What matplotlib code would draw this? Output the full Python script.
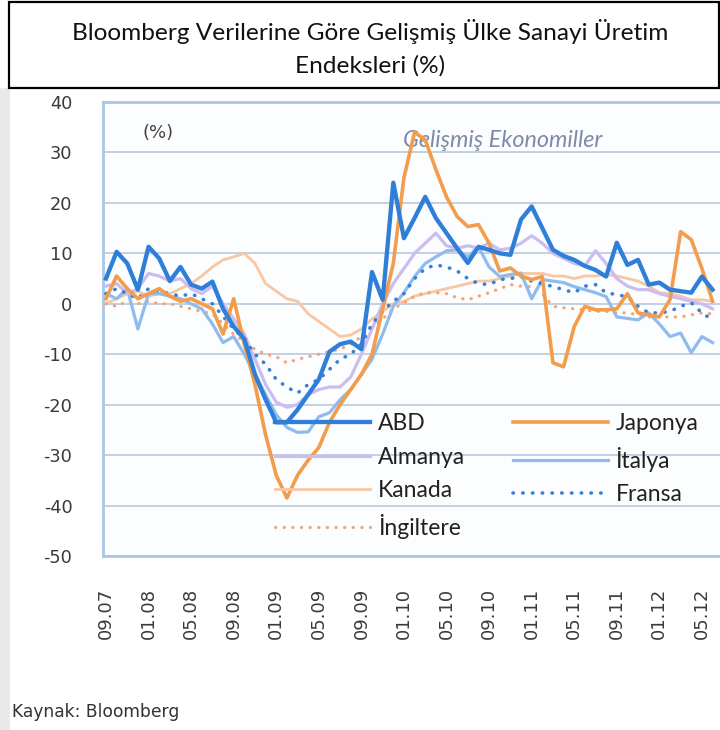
import matplotlib
matplotlib.use("Agg")
import matplotlib.pyplot as plt
from matplotlib.patches import Rectangle

# ---------------- data ----------------
months = ["09.07","10.07","11.07","12.07","01.08","02.08","03.08","04.08","05.08","06.08","07.08","08.08",
          "09.08","10.08","11.08","12.08","01.09","02.09","03.09","04.09","05.09","06.09","07.09","08.09",
          "09.09","10.09","11.09","12.09","01.10","02.10","03.10","04.10","05.10","06.10","07.10","08.10",
          "09.10","10.10","11.10","12.10","01.11","02.11","03.11","04.11","05.11","06.11","07.11","08.11",
          "09.11","10.11","11.11","12.11","01.12","02.12","03.12","04.12","05.12","06.12"]
tick_labels = ["09.07","01.08","05.08","09.08","01.09","05.09","09.09","01.10",
               "05.10","09.10","01.11","05.11","09.11","01.12","05.12"]

abd = [5, 10.3, 8, 2.8, 11.3, 9, 4.5, 7.3, 3.8, 3, 4.4, -1, -4.5, -7, -14, -19, -23.5, -23.5, -21, -18,
       -15, -9.5, -8, -7.5, -9, 6.3, 0.8, 24, 13, 17, 21.2, 17, 14, 11, 8.1, 11.3, 10.7, 10, 9.7, 16.7,
       19.3, 15, 10.7, 9.5, 8.7, 7.5, 6.7, 5.4, 12.1, 7.7, 8.7, 3.8, 4.2, 2.8, 2.5, 2.2, 5.4, 2.8]
japonya = [1, 5.5, 3, 1, 2, 3, 1.5, 0.5, 1, 0, -1, -6, 1, -8, -16, -26, -34, -38.5, -34, -31,
           -28.5, -23.5, -20, -17, -14, -10, -1, 8, 25, 34, 32.5, 26.6, 21.2, 17.3, 15.3, 15.7, 12, 6.5, 7.1, 5.5,
           4.8, 5.4, -11.7, -12.5, -4.5, -0.5, -1.2, -1.2, -1, 2, -1.8, -2.2, -2.6, 0.8, 14.3, 12.7, 7, 0.5]
almanya = [3.5, 4, 2, 3, 6, 5.5, 4.5, 5, 3, 2, 3.5, 0, -3, -6, -11, -16, -19.5, -20.5, -20, -18,
           -17, -16.5, -16.5, -14.5, -10, -5, 0, 4, 7, 10, 12, 14, 11.5, 11, 11.5, 11, 12, 10.7, 11, 12,
           13.5, 12, 10, 9, 8, 7.5, 10.5, 8, 5, 3.5, 2.8, 2.8, 2, 1.5, 1, 0.5, 0, -1]
italya = [2, 1, 3, -5, 2, 2, 1.5, 1, 0, -1, -4, -7.7, -6.5, -10, -14, -18, -22, -24.5, -25.5, -25.4,
          -22.4, -21.6, -19, -17, -14, -11, -6, -0.5, 2.2, 5.4, 8, 9.3, 10.5, 10.7, 9.3, 11.3, 7.3, 5.4, 5.8, 6.1,
          1.0, 4.8, 4.5, 4.2, 3.4, 2.8, 2.2, 1.4, -2.6, -2.9, -3.2, -1.8, -4, -6.5, -5.8, -9.7, -6.5, -7.7]
kanada = [0, 1, 2, 2.5, 1.5, 2, 2, 3, 4, 5.5, 7.3, 8.7, 9.3, 10, 8, 4, 2.5, 1, 0.5, -2,
          -3.5, -5, -6.5, -6.2, -5, -3, -1.5, 0, 0.5, 1.5, 2, 2.5, 3, 3.5, 4, 4.5, 4.5, 5, 5.5, 6,
          6, 6, 5.5, 5.5, 5, 5.5, 5.5, 5.8, 5.5, 5, 4.5, 3.5, 2.2, 2, 1.5, 0.8, 0.8, 0.5]
fransa = [2, 3, 2, 1, 3, 2.5, 2, 1.5, 2, 1, 0, -2.5, -5, -7, -10, -12, -15, -16.5, -17.7, -16,
          -15, -13, -11, -10, -8, -4, -1.5, 0.5, 2, 5, 7, 7.7, 7.3, 6.5, 5, 4, 3.8, 4.8, 5, 5.4,
          4.5, 4, 3.4, 2.8, 2.2, 3.5, 3.8, 2.2, 1.8, 1.4, -0.5, -1.8, -1.8, -1.5, -0.5, 0.2, -1.8, -3.2]
ingiltere = [0, -0.5, 0.5, 0, 0.5, 0, 0, -0.5, -1, -1.5, -2, -4, -6, -7.5, -9, -10, -10.5, -11.7, -11, -10.5,
             -10, -9.5, -9, -8, -6.5, -4.5, -3, -1, 0.2, 1.5, 2.2, 2.2, 2, 1.2, 0.8, 1.5, 2.2, 3, 3.8, 3.5,
             3.4, 2, -0.5, -0.8, -1, -1.2, -1.5, -1.5, -1.8, -1.8, -2.2, -2.6, -2.6, -2.6, -2.6, -2.2, -1.8, -2]

series_names = ["ABD", "Japonya", "Almanya", "İtalya", "Kanada", "Fransa", "İngiltere"]

# ---------------- figure ----------------
W, H = 720, 730
fig = plt.figure(figsize=(W / 100, H / 100), dpi=100)
fig.patch.set_facecolor("white")

def fx(px):
    return px / W

def fy(py):
    return 1 - py / H

# grey page strip on the left
fig.patches.append(Rectangle((0, 0), fx(10), fy(88), transform=fig.transFigure,
                             facecolor="#e9e9e9", edgecolor="none", zorder=0))
# title box
fig.patches.append(Rectangle((fx(9), fy(88)), fx(719) - fx(9), fy(2) - fy(88),
                             transform=fig.transFigure, facecolor="white",
                             edgecolor="black", linewidth=1.6, zorder=1))
fig.text(fx(370), fy(32), "Bloomberg Verilerine Göre Gelişmiş Ülke Sanayi Üretim",
         ha="center", va="center", fontsize=17.6, family="Lato", color="#111111")
fig.text(fx(370), fy(66), "Endeksleri (%)", ha="center", va="center",
         fontsize=17.6, family="Lato", color="#111111")

ax = fig.add_axes([fx(103), fy(556), fx(720) - fx(103), fy(102) - fy(556)])
ax.set_facecolor("#fbfdff")

x = list(range(len(months)))
x_of = {m: i for i, m in enumerate(months)}

styles = {
    "Kanada":    dict(color="#f8c7a2", lw=2.0, ls="-"),
    "İngiltere": dict(color="#f2a677", lw=2.3, ls=(0, (0.1, 2.6)), dash_capstyle="round"),
    "İtalya":    dict(color="#8fbcec", lw=2.3, ls="-"),
    "Almanya":   dict(color="#cbbcf1", lw=2.3, ls="-"),
    "Fransa":    dict(color="#3b7fd5", lw=2.6, ls=(0, (0.1, 2.6)), dash_capstyle="round"),
    "Japonya":   dict(color="#f39c4b", lw=2.6, ls="-"),
    "ABD":       dict(color="#2f7ed8", lw=3.1, ls="-"),
}
data = {"ABD": abd, "Japonya": japonya, "Almanya": almanya, "İtalya": italya,
        "Kanada": kanada, "Fransa": fransa, "İngiltere": ingiltere}

handles = {}
for z, name in enumerate(["Kanada", "İngiltere", "İtalya", "Almanya", "Fransa", "Japonya", "ABD"]):
    st = styles[name]
    kw = dict(color=st["color"], linewidth=st["lw"], linestyle=st["ls"],
              solid_joinstyle="round", zorder=3 + z)
    if "dash_capstyle" in st:
        kw["dash_capstyle"] = st["dash_capstyle"]
    (ln,) = ax.plot(x, data[name], label=name, **kw)
    handles[name] = ln

ax.set_xlim(-0.28, 57.7)
ax.set_ylim(-50, 40)
ax.set_yticks(range(-50, 41, 10))
ax.set_yticklabels([str(v) for v in range(-50, 41, 10)])
ax.set_xticks([x_of[m] for m in tick_labels])
ax.set_xticklabels(tick_labels, rotation=90)
ax.tick_params(axis="y", length=0, pad=22, labelsize=12.8, labelcolor="#3a3a3a")
ax.tick_params(axis="x", length=0, pad=23, labelsize=13, labelcolor="#3a3a3a")
for lab in ax.get_xticklabels() + ax.get_yticklabels():
    lab.set_family("DejaVu Sans")

ax.grid(axis="y", color="#b9c9dd", linewidth=1.2)
ax.grid(axis="x", visible=False)
ax.set_axisbelow(True)
for s in ["left", "top", "bottom"]:
    ax.spines[s].set_color("#a9c6e8")
    ax.spines[s].set_linewidth(2.0)
ax.spines["right"].set_visible(False)

ax.text(4.9, 33.9, "(%)", ha="center", va="center", fontsize=13, color="#404040",
        family="DejaVu Sans")
ax.text(27.9, 32.3, "Gelişmiş Ekonomiller", ha="left", va="center", fontsize=16.8,
        style="italic", color="#7f8aa8", family="Lato")

order = ["ABD", "Almanya", "Kanada", "İngiltere", "Japonya", "İtalya", "Fransa"]
leg = fig.legend([handles[n] for n in order], order, loc="upper left",
                 bbox_to_anchor=(fx(275), fy(413)), ncol=2, frameon=False,
                 prop={"family": "Lato", "size": 16.5}, handlelength=4.15,
                 handletextpad=0.33, columnspacing=2.1, labelspacing=0.55,
                 borderpad=0, borderaxespad=0)
for t in leg.get_texts():
    t.set_color("#222222")

fig.text(fx(12), fy(712), "Kaynak: Bloomberg", ha="left", va="center",
         fontsize=12.3, color="#333333", family="DejaVu Sans")

fig.savefig("out.png", dpi=100)
